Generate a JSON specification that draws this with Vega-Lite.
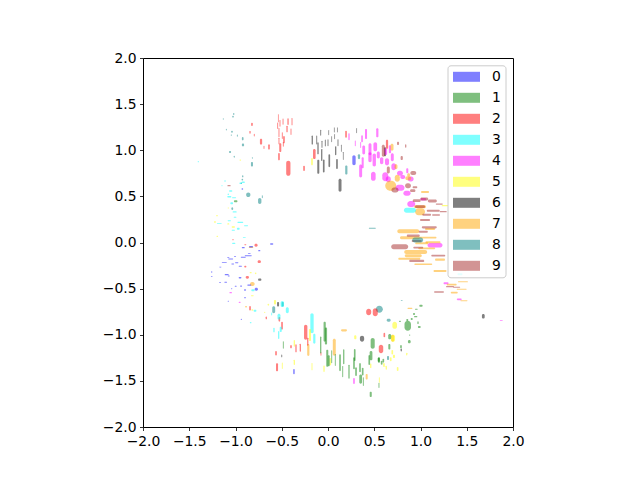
{"$schema":"https://vega.github.io/schema/vega-lite/v6.json","width":370,"height":369,"autosize":"none","padding":{"left":143,"top":58,"right":127,"bottom":53},"background":"white",
"view":{"stroke":"black","strokeWidth":1,"fill":"white"},
"data":{"values":[
{"d":"6","x":-0.084,"x2":-0.074,"y":1.157,"y2":1.223},{"d":"6","x":-0.07,"x2":-0.06,"y":1.026,"y2":1.102},{"d":"6","x":-0.075,"x2":-0.061,"y":0.884,"y2":1.014},{"d":"6","x":-0.055,"x2":-0.037,"y":0.759,"y2":0.899},{"d":"6","x":-0.034,"x2":-0.024,"y":1.041,"y2":1.117},{"d":"6","x":-0.005,"x2":0.005,"y":1.044,"y2":1.12},{"d":"6","x":0.005,"x2":0.023,"y":0.817,"y2":0.957},{"d":"6","x":0.004,"x2":0.012,"y":1.163,"y2":1.217},{"d":"6","x":0.036,"x2":0.044,"y":1.087,"y2":1.151},{"d":"6","x":0.064,"x2":0.072,"y":1.193,"y2":1.247},{"d":"6","x":0.068,"x2":0.076,"y":1.12,"y2":1.174},{"d":"6","x":0.076,"x2":0.09,"y":0.946,"y2":1.044},{"d":"6","x":0.088,"x2":0.106,"y":0.797,"y2":0.905},{"d":"6","x":0.097,"x2":0.105,"y":1.193,"y2":1.247},{"d":"6","x":0.103,"x2":0.113,"y":1.044,"y2":1.12},{"d":"6","x":0.14,"x2":0.148,"y":0.983,"y2":1.059},{"d":"6","x":0.161,"x2":0.169,"y":0.895,"y2":0.981},{"d":"6","x":0.114,"x2":0.146,"y":0.55,"y2":0.69},{"d":"6","x":0.306,"x2":0.314,"y":1.185,"y2":1.239},{"d":"6","x":0.605,"x2":0.627,"y":0.935,"y2":1.033},{"d":"6","x":1.664,"x2":1.694,"y":-0.824,"y2":-0.776},{"d":"6","x":0.345,"x2":0.391,"y":-1.075,"y2":-1.011},{"d":"6","x":0.785,"x2":0.799,"y":-1.181,"y2":-1.149},{"d":"6","x":-0.505,"x2":-0.495,"y":-1.245,"y2":-1.215},{"d":"6","x":-0.756,"x2":-0.72,"y":-0.415,"y2":-0.391},{"d":"6","x":-0.116,"x2":-0.094,"y":0.746,"y2":0.898},{"d":"6","x":-0.177,"x2":-0.163,"y":1.062,"y2":1.16},{"d":"6","x":-0.127,"x2":-0.117,"y":1.062,"y2":1.16},{"d":"6","x":-0.115,"x2":-0.101,"y":0.956,"y2":1.086},{"d":"6","x":-0.551,"x2":-0.529,"y":-0.695,"y2":-0.645},
{"d":"4","x":0.22,"x2":0.234,"y":1.109,"y2":1.185},{"d":"4","x":0.4,"x2":0.422,"y":1.122,"y2":1.23},{"d":"4","x":0.521,"x2":0.545,"y":1.141,"y2":1.239},{"d":"4","x":0.359,"x2":0.377,"y":1.087,"y2":1.163},{"d":"4","x":0.29,"x2":0.3,"y":1.043,"y2":1.107},{"d":"4","x":0.348,"x2":0.358,"y":1.025,"y2":1.089},{"d":"4","x":0.371,"x2":0.401,"y":0.954,"y2":1.052},{"d":"4","x":0.438,"x2":0.47,"y":0.945,"y2":1.075},{"d":"4","x":0.491,"x2":0.531,"y":0.989,"y2":1.087},{"d":"4","x":0.436,"x2":0.472,"y":0.87,"y2":0.978},{"d":"4","x":0.482,"x2":0.518,"y":0.824,"y2":0.964},{"d":"4","x":0.528,"x2":0.56,"y":0.911,"y2":0.987},{"d":"4","x":0.562,"x2":0.598,"y":0.849,"y2":0.925},{"d":"4","x":0.609,"x2":0.639,"y":0.946,"y2":1.022},{"d":"4","x":0.658,"x2":0.682,"y":0.967,"y2":1.053},{"d":"4","x":0.616,"x2":0.66,"y":0.838,"y2":0.914},{"d":"4","x":0.679,"x2":0.711,"y":0.881,"y2":0.967},{"d":"4","x":0.337,"x2":0.369,"y":0.705,"y2":0.845},{"d":"4","x":0.364,"x2":0.386,"y":0.805,"y2":0.925},{"d":"4","x":0.465,"x2":0.515,"y":0.669,"y2":0.767},{"d":"4","x":0.685,"x2":0.735,"y":0.784,"y2":0.86},{"d":"4","x":0.846,"x2":0.868,"y":0.751,"y2":0.805},{"d":"4","x":0.587,"x2":0.651,"y":0.664,"y2":0.762},{"d":"4","x":0.625,"x2":0.679,"y":0.652,"y2":0.718},{"d":"4","x":0.746,"x2":0.81,"y":0.723,"y2":0.777},{"d":"4","x":0.781,"x2":0.835,"y":0.688,"y2":0.732},{"d":"4","x":0.862,"x2":0.926,"y":0.661,"y2":0.715},{"d":"4","x":0.729,"x2":0.827,"y":0.561,"y2":0.627},{"d":"4","x":0.815,"x2":0.893,"y":0.506,"y2":0.56},{"d":"4","x":0.857,"x2":0.943,"y":0.384,"y2":0.45},{"d":"4","x":0.998,"x2":1.062,"y":0.454,"y2":0.482},{"d":"4","x":1.076,"x2":1.238,"y":-0.054,"y2":-0.006},{"d":"4","x":1.249,"x2":1.303,"y":-0.453,"y2":-0.431},{"d":"4","x":1.392,"x2":1.446,"y":-0.625,"y2":-0.607},{"d":"4","x":0.272,"x2":0.29,"y":-1.534,"y2":-1.468},{"d":"4","x":1.857,"x2":1.889,"y":-0.847,"y2":-0.839},{"d":"4","x":-1.066,"x2":-1.038,"y":-0.551,"y2":-0.537},{"d":"4","x":-0.966,"x2":-0.944,"y":-0.655,"y2":-0.641},
{"d":"7","x":0.676,"x2":0.708,"y":0.994,"y2":1.07},{"d":"7","x":0.719,"x2":0.751,"y":0.795,"y2":0.849},{"d":"7","x":0.619,"x2":0.737,"y":0.562,"y2":0.67},{"d":"7","x":0.722,"x2":0.776,"y":0.658,"y2":0.734},{"d":"7","x":0.836,"x2":0.9,"y":0.674,"y2":0.718},{"d":"7","x":0.856,"x2":0.888,"y":0.714,"y2":0.75},{"d":"7","x":1.006,"x2":1.092,"y":0.536,"y2":0.558},{"d":"7","x":0.93,"x2":1.06,"y":0.372,"y2":0.404},{"d":"7","x":0.941,"x2":1.049,"y":0.296,"y2":0.372},{"d":"7","x":0.749,"x2":0.987,"y":0.099,"y2":0.143},{"d":"7","x":0.778,"x2":0.994,"y":0.036,"y2":0.068},{"d":"7","x":1.049,"x2":1.157,"y":0.135,"y2":0.157},{"d":"7","x":0.824,"x2":1.072,"y":-0.125,"y2":-0.081},{"d":"7","x":0.83,"x2":1.014,"y":-0.159,"y2":-0.127},{"d":"7","x":0.76,"x2":0.998,"y":-0.187,"y2":-0.165},{"d":"7","x":0.933,"x2":1.127,"y":-0.244,"y2":-0.228},{"d":"7","x":1.157,"x2":1.265,"y":-0.198,"y2":-0.174},{"d":"7","x":1.141,"x2":1.281,"y":-0.32,"y2":-0.298},{"d":"7","x":1.054,"x2":1.216,"y":-0.009,"y2":0.013},{"d":"7","x":0.989,"x2":1.173,"y":0.043,"y2":0.061},{"d":"7","x":0.975,"x2":1.159,"y":-0.072,"y2":-0.054},{"d":"7","x":0.943,"x2":1.083,"y":-0.02,"y2":0.002},{"d":"7","x":1.283,"x2":1.391,"y":-0.466,"y2":-0.448},{"d":"7","x":1.405,"x2":1.513,"y":-0.431,"y2":-0.419},{"d":"7","x":1.327,"x2":1.403,"y":-0.553,"y2":-0.535},{"d":"7","x":1.391,"x2":1.499,"y":-0.512,"y2":-0.502},{"d":"7","x":1.432,"x2":1.508,"y":-0.636,"y2":-0.626},{"d":"7","x":0.859,"x2":0.913,"y":-0.72,"y2":-0.706},{"d":"7","x":0.683,"x2":0.715,"y":-1.076,"y2":-1},{"d":"7","x":0.407,"x2":0.429,"y":-1.484,"y2":-1.426},{"d":"7","x":-0.225,"x2":-0.201,"y":-1.23,"y2":-1.1},{"d":"7","x":0.052,"x2":0.084,"y":-1.228,"y2":-1.044},{"d":"7","x":0.141,"x2":0.205,"y":-0.964,"y2":-0.94},{"d":"7","x":-0.843,"x2":-0.793,"y":-0.472,"y2":-0.428},{"d":"7","x":-0.897,"x2":-0.875,"y":-0.705,"y2":-0.687},{"d":"7","x":-0.857,"x2":-0.807,"y":-0.059,"y2":-0.045},
{"d":"9","x":0.785,"x2":0.809,"y":0.894,"y2":0.938},{"d":"9","x":0.746,"x2":0.768,"y":1.057,"y2":1.093},{"d":"9","x":0.833,"x2":0.847,"y":1.028,"y2":1.064},{"d":"9","x":0.636,"x2":0.668,"y":0.748,"y2":0.824},{"d":"9","x":0.582,"x2":0.614,"y":0.93,"y2":1.06},{"d":"9","x":0.89,"x2":0.954,"y":0.731,"y2":0.775},{"d":"9","x":0.833,"x2":0.897,"y":0.589,"y2":0.643},{"d":"9","x":0.915,"x2":0.965,"y":0.587,"y2":0.609},{"d":"9","x":0.887,"x2":0.945,"y":0.547,"y2":0.577},{"d":"9","x":0.686,"x2":0.762,"y":0.542,"y2":0.596},{"d":"9","x":0.998,"x2":1.084,"y":0.456,"y2":0.488},{"d":"9","x":1.079,"x2":1.177,"y":0.434,"y2":0.466},{"d":"9","x":0.916,"x2":1.002,"y":0.438,"y2":0.468},{"d":"9","x":1.165,"x2":1.241,"y":0.41,"y2":0.424},{"d":"9","x":0.941,"x2":1.049,"y":0.373,"y2":0.403},{"d":"9","x":0.683,"x2":0.867,"y":-0.073,"y2":-0.019},{"d":"9","x":0.852,"x2":0.992,"y":0.062,"y2":0.086},{"d":"9","x":1.014,"x2":1.176,"y":0.153,"y2":0.177},{"d":"9","x":0.995,"x2":1.103,"y":0.233,"y2":0.255},{"d":"9","x":1.02,"x2":1.114,"y":0.29,"y2":0.312},{"d":"9","x":1.125,"x2":1.211,"y":0.291,"y2":0.305},{"d":"9","x":1.068,"x2":1.208,"y":0.334,"y2":0.356},{"d":"9","x":0.905,"x2":1.013,"y":0.005,"y2":0.027},{"d":"9","x":0.922,"x2":1.03,"y":-0.065,"y2":-0.047},{"d":"9","x":0.878,"x2":1.04,"y":-0.212,"y2":-0.188},{"d":"9","x":1.116,"x2":1.268,"y":-0.152,"y2":-0.134},{"d":"9","x":0.981,"x2":1.079,"y":0.106,"y2":0.128},{"d":"9","x":1.208,"x2":1.284,"y":0.327,"y2":0.341},{"d":"9","x":1.146,"x2":1.254,"y":-0.546,"y2":-0.528},{"d":"9","x":1.276,"x2":1.362,"y":-0.486,"y2":-0.472},{"d":"9","x":1.353,"x2":1.429,"y":-0.491,"y2":-0.481},{"d":"9","x":-1.088,"x2":-1.052,"y":0.609,"y2":0.623},
{"d":"8","x":0.323,"x2":0.347,"y":0.903,"y2":0.957},{"d":"8","x":0.186,"x2":0.21,"y":0.737,"y2":0.835},{"d":"8","x":0.911,"x2":1.029,"y":0,"y2":0.054},{"d":"8","x":0.441,"x2":0.517,"y":0.149,"y2":0.159},{"d":"8","x":0.517,"x2":0.593,"y":-0.762,"y2":-0.686},{"d":"8","x":0.634,"x2":0.678,"y":-0.859,"y2":-0.827},{"d":"8","x":0.786,"x2":0.808,"y":-0.632,"y2":-0.622},{"d":"8","x":0.638,"x2":0.66,"y":-1.274,"y2":-1.23},{"d":"8","x":-0.603,"x2":-0.571,"y":-0.766,"y2":-0.69},{"d":"8","x":-0.501,"x2":-0.479,"y":-0.695,"y2":-0.645},{"d":"8","x":-1.026,"x2":-1.012,"y":1.382,"y2":1.404},{"d":"8","x":-1.036,"x2":-1.018,"y":1.353,"y2":1.375},{"d":"8","x":-1.137,"x2":-1.127,"y":1.33,"y2":1.348},{"d":"8","x":-1.104,"x2":-1.094,"y":1.214,"y2":1.232},{"d":"8","x":-1.047,"x2":-1.029,"y":1.19,"y2":1.212},{"d":"8","x":-1.052,"x2":-1.038,"y":1.158,"y2":1.172},{"d":"8","x":-0.985,"x2":-0.975,"y":1.146,"y2":1.17},{"d":"8","x":-0.931,"x2":-0.913,"y":1.107,"y2":1.143},{"d":"8","x":-0.931,"x2":-0.907,"y":1.042,"y2":1.072},{"d":"8","x":-1.07,"x2":-1.048,"y":0.97,"y2":0.992},{"d":"8","x":-1.018,"x2":-1.008,"y":0.919,"y2":0.941},{"d":"8","x":-0.833,"x2":-0.811,"y":0.823,"y2":0.873},{"d":"8","x":-0.822,"x2":-0.814,"y":0.907,"y2":0.925},{"d":"8","x":-0.929,"x2":-0.915,"y":0.707,"y2":0.729},{"d":"8","x":-0.935,"x2":-0.917,"y":0.672,"y2":0.69},{"d":"8","x":-0.944,"x2":-0.93,"y":0.633,"y2":0.651},{"d":"8","x":-0.715,"x2":-0.705,"y":0.481,"y2":0.511},{"d":"8","x":-0.885,"x2":-0.839,"y":0.493,"y2":0.543},{"d":"8","x":-0.756,"x2":-0.72,"y":0.417,"y2":0.483},{"d":"8","x":-1.044,"x2":-1.026,"y":0.351,"y2":0.381},
{"d":"0","x":0.263,"x2":0.299,"y":0.837,"y2":0.945},{"d":"0","x":-0.376,"x2":-0.36,"y":-1.429,"y2":-1.371},{"d":"0","x":-0.932,"x2":-0.9,"y":-0.063,"y2":-0.049},{"d":"0","x":-0.854,"x2":-0.81,"y":-0.055,"y2":-0.037},{"d":"0","x":-0.627,"x2":-0.591,"y":-0.025,"y2":-0.007},{"d":"0","x":-0.755,"x2":-0.731,"y":-0.096,"y2":-0.082},{"d":"0","x":-0.866,"x2":-0.836,"y":-0.126,"y2":-0.116},{"d":"0","x":-0.9,"x2":-0.824,"y":-0.148,"y2":-0.138},{"d":"0","x":-0.943,"x2":-0.889,"y":-0.165,"y2":-0.155},{"d":"0","x":-1.089,"x2":-1.067,"y":-0.169,"y2":-0.161},{"d":"0","x":-1.079,"x2":-1.025,"y":-0.184,"y2":-0.174},{"d":"0","x":-1.016,"x2":-0.994,"y":-0.158,"y2":-0.15},{"d":"0","x":-1.148,"x2":-1.094,"y":-0.219,"y2":-0.211},{"d":"0","x":-1.005,"x2":-0.969,"y":-0.224,"y2":-0.214},{"d":"0","x":-1.045,"x2":-1.015,"y":-0.238,"y2":-0.228},{"d":"0","x":-0.966,"x2":-0.93,"y":-0.263,"y2":-0.253},{"d":"0","x":-1.175,"x2":-1.153,"y":-0.27,"y2":-0.262},{"d":"0","x":-1.264,"x2":-1.25,"y":-0.327,"y2":-0.313},{"d":"0","x":-1.117,"x2":-1.073,"y":-0.356,"y2":-0.342},{"d":"0","x":-1.084,"x2":-1.062,"y":-0.368,"y2":-0.358},{"d":"0","x":-1.266,"x2":-1.248,"y":-0.37,"y2":-0.362},{"d":"0","x":-0.966,"x2":-0.936,"y":-0.389,"y2":-0.375},{"d":"0","x":-1.178,"x2":-1.156,"y":-0.435,"y2":-0.427},{"d":"0","x":-1.121,"x2":-1.091,"y":-0.436,"y2":-0.426},{"d":"0","x":-1.009,"x2":-0.987,"y":-0.48,"y2":-0.47},{"d":"0","x":-0.951,"x2":-0.929,"y":-0.479,"y2":-0.465},{"d":"0","x":-0.873,"x2":-0.829,"y":-0.468,"y2":-0.454},{"d":"0","x":-0.793,"x2":-0.757,"y":-0.523,"y2":-0.491},{"d":"0","x":-0.908,"x2":-0.886,"y":-0.522,"y2":-0.508},{"d":"0","x":-1.048,"x2":-1.034,"y":-0.506,"y2":-0.496},{"d":"0","x":-1.085,"x2":-1.071,"y":-0.642,"y2":-0.632},{"d":"0","x":-0.908,"x2":-0.886,"y":-0.603,"y2":-0.593},{"d":"0","x":-0.944,"x2":-0.93,"y":-0.84,"y2":-0.826},{"d":"0","x":-0.935,"x2":-0.917,"y":0.573,"y2":0.587},
{"d":"2","x":0.186,"x2":0.204,"y":1.135,"y2":1.211},{"d":"2","x":0.626,"x2":0.65,"y":1.015,"y2":1.113},{"d":"2","x":0.413,"x2":0.467,"y":-0.788,"y2":-0.718},{"d":"2","x":0.484,"x2":0.538,"y":-0.8,"y2":-0.714},{"d":"2","x":0.6,"x2":0.618,"y":-1.027,"y2":-0.979},{"d":"2","x":0.549,"x2":0.597,"y":-1.2,"y2":-1.108},{"d":"2","x":-0.259,"x2":-0.223,"y":-1.054,"y2":-0.892},{"d":"2","x":-0.226,"x2":-0.212,"y":-1.118,"y2":-1.032},{"d":"2","x":-0.506,"x2":-0.488,"y":-0.945,"y2":-0.859},{"d":"2","x":-0.535,"x2":-0.517,"y":-0.858,"y2":-0.808},{"d":"2","x":-0.306,"x2":-0.292,"y":-1.183,"y2":-1.097},{"d":"2","x":-0.353,"x2":-0.339,"y":-1.19,"y2":-1.104},{"d":"2","x":-0.409,"x2":-0.391,"y":-1.148,"y2":-1.112},{"d":"2","x":-0.571,"x2":-0.553,"y":-1.226,"y2":-1.176},{"d":"2","x":-0.562,"x2":-0.54,"y":-1.396,"y2":-1.31},{"d":"2","x":-0.081,"x2":-0.071,"y":-1.227,"y2":-1.191},{"d":"2","x":-0.674,"x2":-0.66,"y":-0.833,"y2":-0.803},{"d":"2","x":-0.852,"x2":-0.834,"y":-0.738,"y2":-0.688},{"d":"2","x":-0.796,"x2":-0.76,"y":-0.046,"y2":-0.014},{"d":"2","x":-0.761,"x2":-0.725,"y":-0.223,"y2":-0.193},{"d":"2","x":-0.905,"x2":-0.883,"y":-0.029,"y2":-0.019},{"d":"2","x":-0.906,"x2":-0.882,"y":-0.271,"y2":-0.253},{"d":"2","x":-0.89,"x2":-0.854,"y":-0.392,"y2":-0.362},{"d":"2","x":-1.036,"x2":-1.018,"y":0.025,"y2":0.035},{"d":"2","x":-0.541,"x2":-0.533,"y":1.303,"y2":1.389},{"d":"2","x":-0.549,"x2":-0.539,"y":1.23,"y2":1.302},{"d":"2","x":-0.524,"x2":-0.514,"y":1.256,"y2":1.328},{"d":"2","x":-0.491,"x2":-0.481,"y":1.277,"y2":1.343},{"d":"2","x":-0.439,"x2":-0.425,"y":1.274,"y2":1.346},{"d":"2","x":-0.394,"x2":-0.384,"y":1.27,"y2":1.35},{"d":"2","x":-0.45,"x2":-0.436,"y":1.194,"y2":1.266},{"d":"2","x":-0.405,"x2":-0.395,"y":1.165,"y2":1.237},{"d":"2","x":-0.535,"x2":-0.525,"y":1.14,"y2":1.24},{"d":"2","x":-0.499,"x2":-0.489,"y":1.122,"y2":1.194},{"d":"2","x":-0.485,"x2":-0.467,"y":1.074,"y2":1.154},{"d":"2","x":-0.535,"x2":-0.525,"y":1.064,"y2":1.136},{"d":"2","x":-0.488,"x2":-0.478,"y":1.039,"y2":1.089},{"d":"2","x":-0.527,"x2":-0.505,"y":0.981,"y2":1.075},{"d":"2","x":-0.647,"x2":-0.629,"y":1.006,"y2":1.064},{"d":"2","x":-0.697,"x2":-0.687,"y":1.014,"y2":1.05},{"d":"2","x":-0.736,"x2":-0.712,"y":1.06,"y2":1.126},{"d":"2","x":-0.831,"x2":-0.813,"y":1.263,"y2":1.299},{"d":"2","x":-0.85,"x2":-0.836,"y":1.18,"y2":1.21},{"d":"2","x":-0.802,"x2":-0.792,"y":1.15,"y2":1.18},{"d":"2","x":-0.539,"x2":-0.521,"y":0.89,"y2":0.97},{"d":"2","x":-0.452,"x2":-0.406,"y":0.723,"y2":0.885},{"d":"2","x":-0.268,"x2":-0.25,"y":0.775,"y2":0.833},{"d":"2","x":-0.162,"x2":-0.134,"y":0.905,"y2":1.013},
{"d":"3","x":-0.191,"x2":-0.155,"y":-0.984,"y2":-0.768},{"d":"3","x":-0.16,"x2":-0.136,"y":-1.097,"y2":-0.989},{"d":"3","x":-0.456,"x2":-0.424,"y":-0.767,"y2":-0.703},{"d":"3","x":-0.546,"x2":-0.514,"y":-0.836,"y2":-0.772},{"d":"3","x":-0.522,"x2":-0.5,"y":-0.97,"y2":-0.912},{"d":"3","x":-0.591,"x2":-0.577,"y":-0.974,"y2":-0.924},{"d":"3","x":-0.54,"x2":-0.526,"y":-1.046,"y2":-0.96},{"d":"3","x":-0.804,"x2":-0.774,"y":-0.75,"y2":-0.728},{"d":"3","x":-0.512,"x2":-0.476,"y":-0.7,"y2":-0.634},{"d":"3","x":-0.614,"x2":-0.604,"y":-0.79,"y2":-0.76},{"d":"3","x":-0.845,"x2":-0.827,"y":-0.876,"y2":-0.862},{"d":"3","x":-1.037,"x2":-1.001,"y":-0.016,"y2":-0.002},{"d":"3","x":-0.829,"x2":-0.793,"y":-0.529,"y2":-0.507},{"d":"3","x":0.821,"x2":0.951,"y":0.322,"y2":0.376},{"d":"3","x":1.4,"x2":1.454,"y":-0.356,"y2":-0.334},{"d":"3","x":-1.409,"x2":-1.395,"y":0.869,"y2":0.883},{"d":"3","x":-1.124,"x2":-1.102,"y":0.662,"y2":0.672},{"d":"3","x":-0.959,"x2":-0.929,"y":0.633,"y2":0.651},{"d":"3","x":-0.934,"x2":-0.898,"y":0.644,"y2":0.662},{"d":"3","x":-1.153,"x2":-1.139,"y":0.611,"y2":0.621},{"d":"3","x":-1.07,"x2":-1.034,"y":0.549,"y2":0.567},{"d":"3","x":-1.085,"x2":-1.071,"y":0.514,"y2":0.532},{"d":"3","x":-1.089,"x2":-1.045,"y":0.489,"y2":0.503},{"d":"3","x":-1.038,"x2":-0.994,"y":0.481,"y2":0.491},{"d":"3","x":-1.056,"x2":-1.026,"y":0.414,"y2":0.436},{"d":"3","x":-1.031,"x2":-0.987,"y":0.324,"y2":0.338},{"d":"3","x":-1.02,"x2":-0.99,"y":0.268,"y2":0.278},{"d":"3","x":-1.085,"x2":-1.049,"y":0.231,"y2":0.241},{"d":"3","x":-0.98,"x2":-0.916,"y":0.212,"y2":0.226},{"d":"3","x":-1.2,"x2":-1.15,"y":0.2,"y2":0.208},{"d":"3","x":-0.985,"x2":-0.955,"y":0.139,"y2":0.161},{"d":"3","x":-0.908,"x2":-0.864,"y":0.177,"y2":0.187},{"d":"3","x":-1.042,"x2":-1.006,"y":0.127,"y2":0.137},{"d":"3","x":-0.92,"x2":-0.89,"y":0.048,"y2":0.056},
{"d":"5","x":1.229,"x2":1.301,"y":0.392,"y2":0.406},{"d":"5","x":0.696,"x2":0.746,"y":-0.936,"y2":-0.86},{"d":"5","x":0.283,"x2":0.307,"y":-1.05,"y2":-1.006},{"d":"5","x":0.681,"x2":0.725,"y":-1.076,"y2":-1},{"d":"5","x":0.686,"x2":0.704,"y":-1.215,"y2":-1.165},{"d":"5","x":0.702,"x2":0.724,"y":-1.252,"y2":-1.216},{"d":"5","x":0.669,"x2":0.687,"y":-1.288,"y2":-1.244},{"d":"5","x":0.844,"x2":0.858,"y":-1.224,"y2":-1.194},{"d":"5","x":0.596,"x2":0.614,"y":-1.35,"y2":-1.306},{"d":"5","x":0.623,"x2":0.637,"y":-1.379,"y2":-1.335},{"d":"5","x":0.744,"x2":0.762,"y":-1.393,"y2":-1.349},{"d":"5","x":0.55,"x2":0.56,"y":-1.52,"y2":-1.462},{"d":"5","x":0.455,"x2":0.469,"y":-1.361,"y2":-1.311},{"d":"5","x":-0.206,"x2":-0.184,"y":-1.068,"y2":-0.938},{"d":"5","x":-0.584,"x2":-0.562,"y":-0.673,"y2":-0.623},{"d":"5","x":-0.654,"x2":-0.636,"y":-0.685,"y2":-0.663},{"d":"5","x":-0.691,"x2":-0.677,"y":-0.764,"y2":-0.75},{"d":"5","x":-0.371,"x2":-0.357,"y":-1.129,"y2":-1.057},{"d":"5","x":-0.371,"x2":-0.357,"y":-1.328,"y2":-1.27},{"d":"5","x":-0.499,"x2":-0.489,"y":-1.372,"y2":-1.3},{"d":"5","x":-0.178,"x2":-0.168,"y":-1.386,"y2":-1.306},{"d":"5","x":-0.05,"x2":-0.036,"y":-1.404,"y2":-1.332},{"d":"5","x":0.016,"x2":0.034,"y":-1.332,"y2":-1.252},{"d":"5","x":-1.206,"x2":-1.188,"y":0.06,"y2":0.074},{"d":"5","x":-0.847,"x2":-0.825,"y":-0.334,"y2":-0.32},{"d":"5","x":-0.791,"x2":-0.773,"y":-0.343,"y2":-0.325},{"d":"5","x":-0.833,"x2":-0.803,"y":-0.582,"y2":-0.572},{"d":"5","x":-0.829,"x2":-0.807,"y":-0.741,"y2":-0.723},{"d":"5","x":-0.182,"x2":-0.164,"y":0.836,"y2":0.916},{"d":"5","x":-0.957,"x2":-0.939,"y":0.887,"y2":0.901},{"d":"5","x":-1.042,"x2":-1.006,"y":0.161,"y2":0.175},{"d":"5","x":-1.233,"x2":-1.211,"y":0.215,"y2":0.229},{"d":"5","x":-1.089,"x2":-1.067,"y":0.194,"y2":0.208},{"d":"5","x":-1.209,"x2":-1.191,"y":0.284,"y2":0.298},{"d":"5","x":-1.085,"x2":-1.071,"y":0.369,"y2":0.379},
{"d":"1","x":0.827,"x2":0.897,"y":-0.956,"y2":-0.848},{"d":"1","x":0.919,"x2":0.941,"y":-0.786,"y2":-0.764},{"d":"1","x":0.93,"x2":0.966,"y":-0.811,"y2":-0.797},{"d":"1","x":0.94,"x2":0.97,"y":-0.729,"y2":-0.719},{"d":"1","x":0.894,"x2":0.916,"y":-0.84,"y2":-0.818},{"d":"1","x":0.846,"x2":0.868,"y":-0.851,"y2":-0.829},{"d":"1","x":0.767,"x2":0.789,"y":-0.861,"y2":-0.847},{"d":"1","x":0.972,"x2":1.002,"y":-0.927,"y2":-0.905},{"d":"1","x":0.966,"x2":0.98,"y":-0.884,"y2":-0.854},{"d":"1","x":0.987,"x2":1.023,"y":-0.696,"y2":-0.674},{"d":"1","x":0.876,"x2":0.89,"y":-1.01,"y2":-0.996},{"d":"1","x":0.864,"x2":0.894,"y":-1.093,"y2":-1.057},{"d":"1","x":0.651,"x2":0.683,"y":-1.05,"y2":-0.992},{"d":"1","x":0.652,"x2":0.674,"y":-1.159,"y2":-1.101},{"d":"1","x":0.461,"x2":0.505,"y":-1.151,"y2":-1.035},{"d":"1","x":0.78,"x2":0.798,"y":-1.148,"y2":-1.112},{"d":"1","x":0.54,"x2":0.562,"y":-1.303,"y2":-1.245},{"d":"1","x":0.571,"x2":0.589,"y":-1.325,"y2":-1.281},{"d":"1","x":0.589,"x2":0.607,"y":-1.303,"y2":-1.259},{"d":"1","x":0.45,"x2":0.48,"y":-1.277,"y2":-1.177},{"d":"1","x":0.437,"x2":0.455,"y":-1.328,"y2":-1.22},{"d":"1","x":0.28,"x2":0.298,"y":-1.285,"y2":-1.155},{"d":"1","x":0.272,"x2":0.29,"y":-1.375,"y2":-1.245},{"d":"1","x":0.294,"x2":0.312,"y":-1.447,"y2":-1.353},{"d":"1","x":0.337,"x2":0.355,"y":-1.407,"y2":-1.307},{"d":"1","x":0.366,"x2":0.384,"y":-1.443,"y2":-1.357},{"d":"1","x":0.338,"x2":0.368,"y":-1.53,"y2":-1.43},{"d":"1","x":0.377,"x2":0.387,"y":-1.556,"y2":-1.462},{"d":"1","x":0.546,"x2":0.556,"y":-1.577,"y2":-1.519},{"d":"1","x":0.451,"x2":0.473,"y":-1.675,"y2":-1.617},{"d":"1","x":-0.048,"x2":-0.024,"y":-1.075,"y2":-0.859},{"d":"1","x":-0.034,"x2":-0.01,"y":-1.106,"y2":-0.922},{"d":"1","x":-0.086,"x2":-0.072,"y":-1.203,"y2":-1.019},{"d":"1","x":-0.488,"x2":-0.478,"y":-1.151,"y2":-1.071},{"d":"1","x":-0.019,"x2":0.003,"y":-1.347,"y2":-1.163},{"d":"1","x":-0.003,"x2":0.019,"y":-1.341,"y2":-1.221},{"d":"1","x":0.035,"x2":0.045,"y":-1.308,"y2":-1.168},{"d":"1","x":0.074,"x2":0.084,"y":-1.339,"y2":-1.209},{"d":"1","x":0.121,"x2":0.139,"y":-1.395,"y2":-1.211},{"d":"1","x":0.163,"x2":0.177,"y":-1.319,"y2":-1.157},{"d":"1","x":0.154,"x2":0.164,"y":-1.46,"y2":-1.34},{"d":"1","x":0.22,"x2":0.234,"y":-1.476,"y2":-1.324},{"d":"1","x":0.537,"x2":0.559,"y":-1.292,"y2":-1.248},{"d":"1","x":-1.017,"x2":-0.979,"y":0.436,"y2":0.458}
]},
"mark":{"type":"rect","opacity":0.5,"cornerRadius":100,"clip":true},
"encoding":{
"x":{"field":"x","type":"quantitative","title":null,"scale":{"domain":[-2,2],"nice":false,"zero":false},
"axis":{"values":[-2,-1.5,-1,-0.5,0,0.5,1,1.5,2],"grid":false,"domain":false,"tickColor":"black","tickSize":3.5,"tickWidth":0.8,"labelColor":"black","labelFont":"DejaVu Sans","labelFontSize":13.9,"labelPadding":3.5,"labelFlush":false,"labelOverlap":false,"labelExpr":"replace(format(datum.value,'.1f'),'-','−')"}},
"x2":{"field":"x2"},
"y":{"field":"y","type":"quantitative","title":null,"scale":{"domain":[-2,2],"nice":false,"zero":false},
"axis":{"values":[-2,-1.5,-1,-0.5,0,0.5,1,1.5,2],"grid":false,"domain":false,"tickColor":"black","tickSize":3.5,"tickWidth":0.8,"labelColor":"black","labelFont":"DejaVu Sans","labelFontSize":13.9,"labelPadding":3.5,"labelFlush":false,"labelOverlap":false,"labelExpr":"replace(format(datum.value,'.1f'),'-','−')"}},
"y2":{"field":"y2"},
"color":{"field":"d","type":"nominal","title":null,
"scale":{"domain":["0","1","2","3","4","5","6","7","8","9"],"range":["#0000ff","#008000","#ff0000","#00ffff","#ff00ff","#ffff00","#000000","#ffa500","#008080","#a52a2a"]},
"legend":{"orient":"none","legendX":304.5,"legendY":7.3,"zindex":1,"fillColor":"rgba(255,255,255,0.8)","strokeColor":"#cccccc","cornerRadius":3,"padding":4,"rowPadding":6,"symbolType":"M-0.8,-0.667H2.8V0.667H-0.8Z","symbolSize":225,"symbolOpacity":0.5,"symbolStrokeWidth":0,"labelOffset":25.5,"labelFont":"DejaVu Sans","labelFontSize":13.9,"labelColor":"black"}}
}}
